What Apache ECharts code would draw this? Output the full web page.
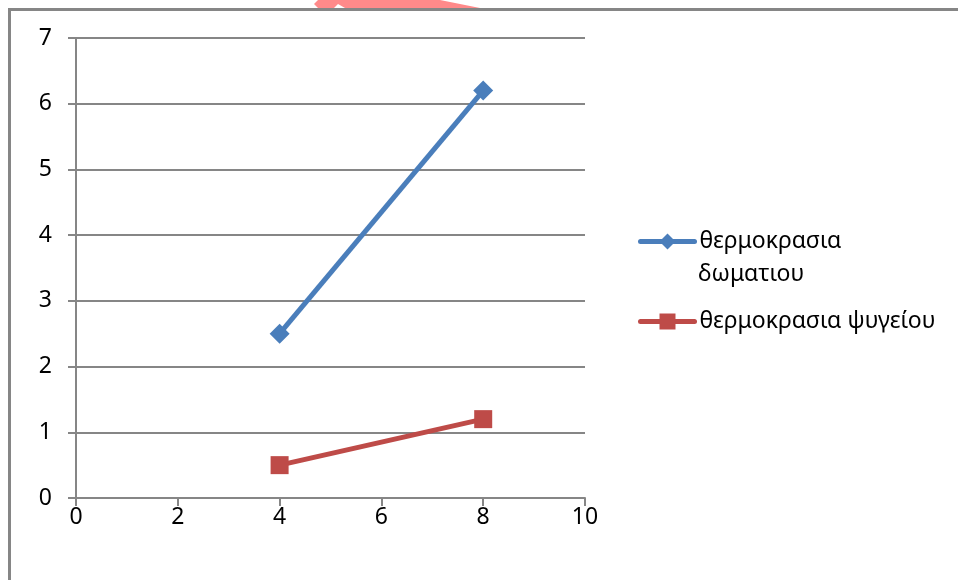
<!DOCTYPE html>
<html><head><meta charset="utf-8">
<script src="https://cdn.jsdelivr.net/npm/echarts@6/dist/echarts.min.js"></script>
<style>html,body{margin:0;padding:0;background:#fff}#c{width:958px;height:580px}</style>
</head><body><div id="c"></div>
<script>
const seriesNames = ['θερμοκρασια δωματιου', 'θερμοκρασια ψυγείου'];
const roomX = [4, 8];
const roomY = [2.5, 6.2];
const fridgeX = [4, 8];
const fridgeY = [0.5, 1.2];
const xTicks = [0, 2, 4, 6, 8, 10];
const yTicks = [0, 1, 2, 3, 4, 5, 6, 7];

const FONT = 'Noto Sans';
const FS = 23;
const gray = '#868686';
const chart = echarts.init(document.getElementById('c'));
const pairs = (xs, ys) => xs.map((x, i) => [x, ys[i]]);
const legendText = {fontFamily: FONT, fontSize: FS, color: '#000'};
chart.setOption({
  animation: false,
  grid: {left: 76, top: 38, right: 373, bottom: 82},
  xAxis: {
    type: 'value', min: xTicks[0], max: xTicks[xTicks.length - 1], interval: 2,
    axisLine: {show: true, lineStyle: {color: gray, width: 2}},
    axisTick: {show: true, length: 8, lineStyle: {color: gray, width: 2}},
    splitLine: {show: false},
    axisLabel: {margin: 8, fontFamily: FONT, fontSize: FS, color: '#000'}
  },
  yAxis: {
    type: 'value', min: yTicks[0], max: yTicks[yTicks.length - 1], interval: 1,
    axisLine: {show: true, lineStyle: {color: gray, width: 2}},
    axisTick: {show: true, length: 8, lineStyle: {color: gray, width: 2}},
    splitLine: {show: true, lineStyle: {color: gray, width: 2}},
    axisLabel: {margin: 24, fontFamily: FONT, fontSize: FS, color: '#000'}
  },
  legend: [
    {data: [seriesNames[0]], orient: 'vertical', left: 638, top: 230, padding: 0, itemWidth: 54, itemHeight: 20,
     formatter: () => 'θερμοκρασια', textStyle: legendText, lineStyle: {width: 5, cap: 'round'}},
    {data: [seriesNames[1]], orient: 'vertical', left: 638, top: 310, padding: 0, itemWidth: 54, itemHeight: 20,
     textStyle: legendText, lineStyle: {width: 5, cap: 'round'}}
  ],
  graphic: [
    {type: 'rect', shape: {x: 8, y: 8, width: 950, height: 3}, style: {fill: gray}, z: 100},
    {type: 'rect', shape: {x: 8, y: 8, width: 3, height: 572}, style: {fill: gray}, z: 100},
    {type: 'polygon', shape: {points: [[318, 0], [440, 0], [480, 8], [345, 8], [338, 4], [334, 8], [318, 8], [314, 4]]},
     style: {fill: '#ff8a8a'}},
    {type: 'text', left: 698, top: 263, style: {text: 'δωματιου', font: FS + 'px "Noto Sans"', fill: '#000'}}
  ],
  series: [
    {name: seriesNames[0], type: 'line', data: pairs(roomX, roomY), symbol: 'diamond', symbolSize: 20,
     lineStyle: {color: '#4a7ebb', width: 5}, itemStyle: {color: '#4a7ebb'}},
    {name: seriesNames[1], type: 'line', data: pairs(fridgeX, fridgeY), symbol: 'rect', symbolSize: 18,
     lineStyle: {color: '#be4b48', width: 5}, itemStyle: {color: '#be4b48'}}
  ]
});
</script></body></html>
